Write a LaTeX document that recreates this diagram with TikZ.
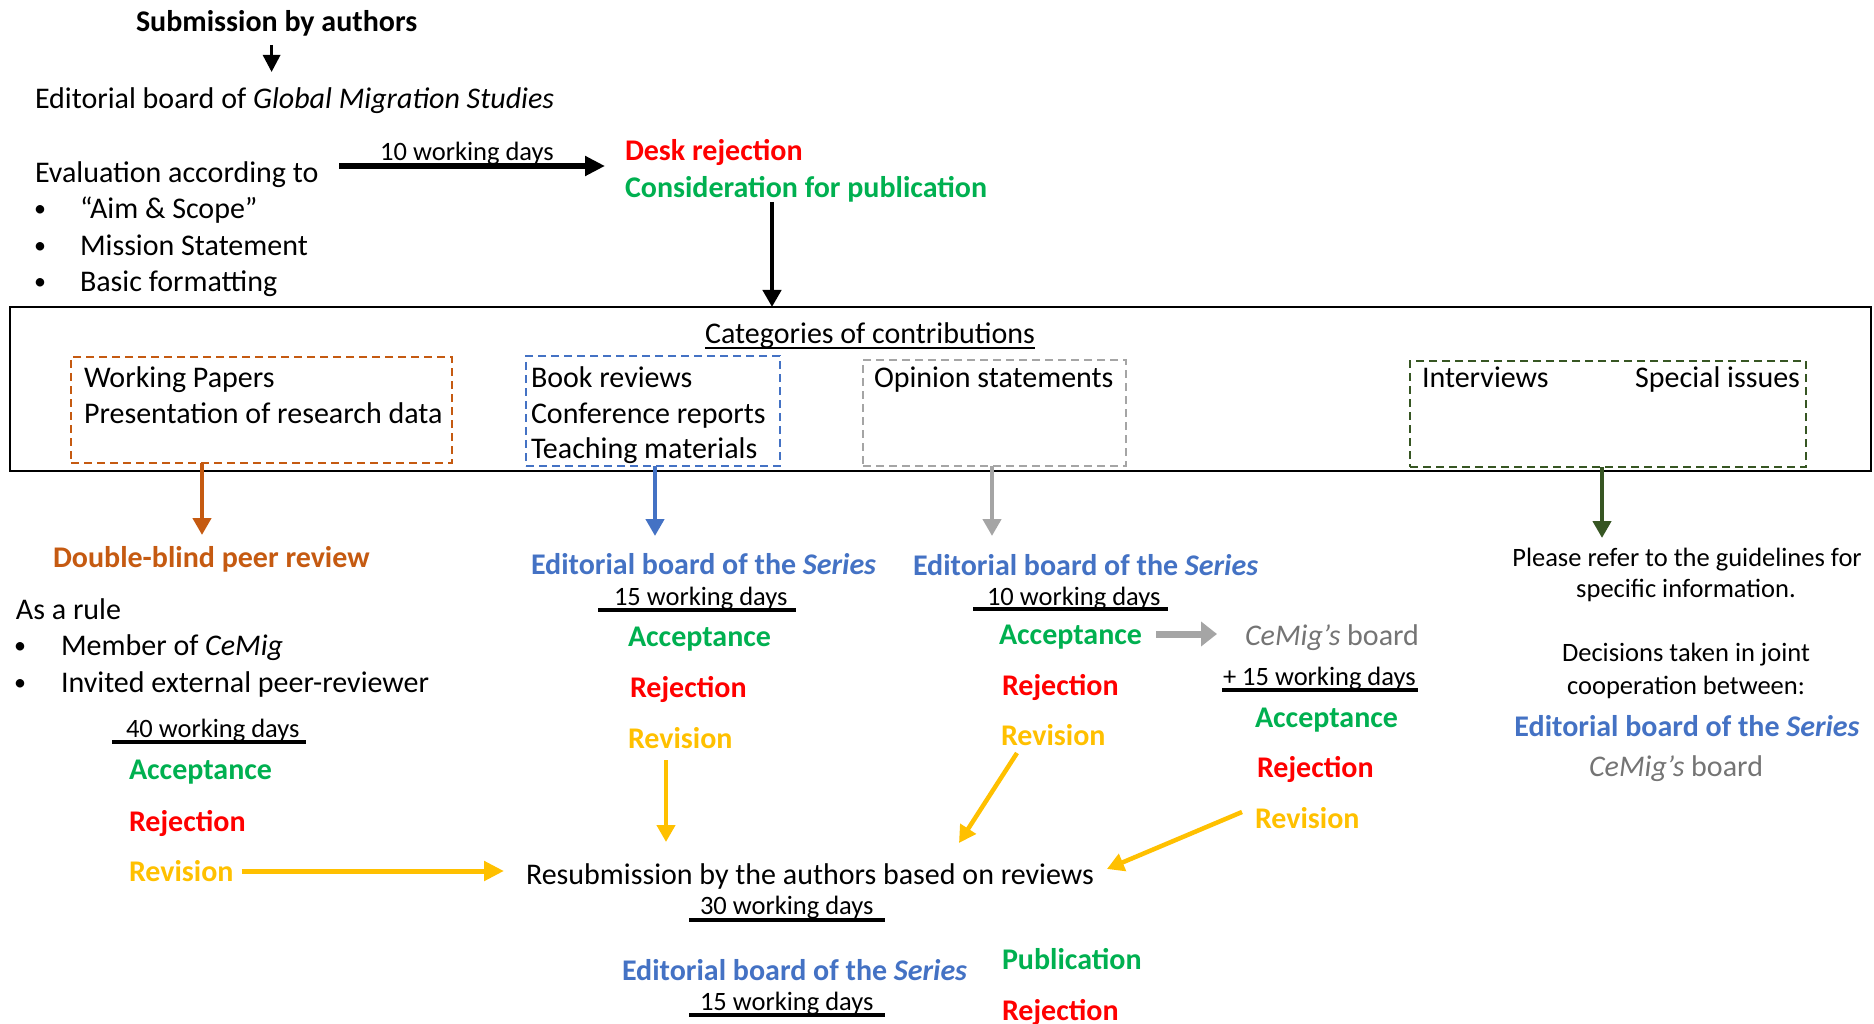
\documentclass[tikz,border=0pt]{standalone}
\usepackage{fontspec}
\setmainfont{Carlito}
\usetikzlibrary{arrows.meta}
\definecolor{cRed}{HTML}{FF0000}
\definecolor{cGreen}{HTML}{00B050}
\definecolor{cGold}{HTML}{FFC000}
\definecolor{cBlue}{HTML}{4472C4}
\definecolor{cOrange}{HTML}{C55A11}
\definecolor{cGreyLine}{HTML}{A5A5A5}
\definecolor{cGreyText}{HTML}{747474}
\definecolor{cDkGreen}{HTML}{375623}
\begin{document}
\begin{tikzpicture}[x=1pt,y=-1pt,
  every node/.style={inner sep=0pt,outer sep=0pt},
  txt/.style={font=\fontsize{30}{36}\selectfont,text height=20pt,text depth=0pt,anchor=west},
  bld/.style={txt,font=\fontsize{30}{36}\selectfont\bfseries},
  sml/.style={font=\fontsize{26.5}{32}\selectfont,text height=17pt,text depth=0pt,anchor=west},
  bul/.style={font=\fontsize{24}{30}\selectfont,text height=16pt,text depth=0pt,anchor=center},
  dbox/.style={draw,line width=2.2pt,dash pattern=on 8pt off 5pt},
  arrT/.style={-{Triangle[length=17pt,width=17pt]},line width=3pt},
  arrM/.style={-{Triangle[length=17pt,width=18pt]},line width=4.5pt},
  arrThick/.style={-{Triangle[length=20pt,width=19pt]},line width=6pt},
  arrBlock/.style={-{Triangle[length=16pt,width=24pt]},line width=7pt},
  wdline/.style={line width=4pt}
]
\useasboundingbox (0,0) rectangle (1874,1024);

% ---- top part
\node[bld] (sub) at (136,22) {Submission by authors};
\node[txt] (egms) at (35,99) {Editorial board of \textit{Global Migration Studies}};
\node[txt] (eval) at (35,173) {Evaluation according to};
\node[bul] (b1) at (40,209) {•};
\node[txt] (aim) at (80,209) {“Aim \& Scope”};
\node[bul] (b2) at (40,246) {•};
\node[txt] (mission) at (80,246) {Mission Statement};
\node[bul] (b3) at (40,282) {•};
\node[txt] (basic) at (80,282) {Basic formatting};
\node[sml,anchor=center] (d10a) at (467,152) {10 working days};
\node[bld,text=cRed] (desk) at (625,151) {Desk rejection};
\node[bld,text=cGreen] (consid) at (625,188) {Consideration for publication};

% ---- categories box
\node[draw,line width=2.5pt,minimum width=1861pt,minimum height=164pt] (big) at (940.5,389) {};
\node[txt,anchor=center] (cat) at (870,333) {Categories of contributions};
\draw[line width=2pt] ([yshift=-5pt]cat.south west) -- ([yshift=-5pt]cat.south east);

\node[dbox,draw=cOrange,minimum width=381pt,minimum height=106pt] (obox) at (261.5,410) {};
\node[txt] (wp) at (84,377) {Working Papers};
\node[txt] (prd) at (84,413) {Presentation of research data};

\node[dbox,draw=cBlue,minimum width=254pt,minimum height=110pt] (bbox) at (653,411) {};
\node[txt] (book) at (531,377) {Book reviews};
\node[txt] (conf) at (531,413) {Conference reports};
\node[txt] (teach) at (531,448) {Teaching materials};

\node[dbox,draw=cGreyLine,minimum width=263pt,minimum height=106pt] (gbox) at (994.5,413) {};
\node[txt] (opinion) at (874,377) {Opinion statements};

\node[dbox,draw=cDkGreen,minimum width=396pt,minimum height=106pt] (grbox) at (1608,414) {};
\node[txt] (interv) at (1422,377) {Interviews};
\node[txt,anchor=east] (special) at (1800,377) {Special issues};

% ---- column 1
\node[bld,text=cOrange] (dbpr) at (53,557) {Double-blind peer review};
\node[txt] (asrule) at (16,609) {As a rule};
\node[bul] (b4) at (20,645) {•};
\node[txt] (member) at (61,645) {Member of \textit{CeMig}};
\node[bul] (b5) at (20,682) {•};
\node[txt] (invited) at (61,682) {Invited external peer-reviewer};
\node[sml] (d40) at (126,729) {40 working days};
\node[bld,text=cGreen] (acc1) at (129,769) {Acceptance};
\node[bld,text=cRed] (rej1) at (129,821) {Rejection};
\node[bld,text=cGold] (rev1) at (129,871) {Revision};

% ---- column 2
\node[bld,text=cBlue] (ebs1) at (531,564) {Editorial board of the \textit{Series}};
\node[sml] (d15a) at (614,597) {15 working days};
\node[bld,text=cGreen] (acc2) at (628,636) {Acceptance};
\node[bld,text=cRed] (rej2) at (630,687) {Rejection};
\node[bld,text=cGold] (rev2) at (628,738) {Revision};

% ---- column 3
\node[bld,text=cBlue] (ebs2) at (913,565) {Editorial board of the \textit{Series}};
\node[sml] (d10b) at (987,597) {10 working days};
\node[bld,text=cGreen] (acc3) at (999,634) {Acceptance};
\node[bld,text=cRed] (rej3) at (1002,685) {Rejection};
\node[bld,text=cGold] (rev3) at (1001,735) {Revision};
\node[txt,text=cGreyText] (cemig1) at (1245,635) {\textit{CeMig’s} board};
\node[sml] (d15p) at (1223,677) {+ 15 working days};
\node[bld,text=cGreen] (acc4) at (1255,717) {Acceptance};
\node[bld,text=cRed] (rej4) at (1257,767) {Rejection};
\node[bld,text=cGold] (rev4) at (1255,818) {Revision};

% ---- right column
\node[sml,anchor=center] (please) at (1687,558) {Please refer to the guidelines for};
\node[sml,anchor=center] (specinfo) at (1686,589) {specific information.};
\node[sml,anchor=center] (decis) at (1686,653) {Decisions taken in joint};
\node[sml,anchor=center] (coop) at (1686,686) {cooperation between:};
\node[bld,anchor=center,text=cBlue] (ebs3) at (1687,726) {Editorial board of the \textit{Series}};
\node[txt,anchor=center,text=cGreyText] (cemig2) at (1676,766) {\textit{CeMig’s} board};

% ---- bottom
\node[txt] (resub) at (526,874) {Resubmission by the authors based on reviews};
\node[sml] (d30) at (700,906) {30 working days};
\node[bld,text=cBlue] (ebs4) at (622,970) {Editorial board of the \textit{Series}};
\node[sml] (d15b) at (700,1002) {15 working days};
\node[bld,text=cGreen] (pub) at (1002,959) {Publication};
\node[bld,text=cRed] (rej5) at (1002,1010) {Rejection};

% ---- underlines of durations
\draw[wdline] ([xshift=-14pt,yshift=-4pt]d40.south west) -- ([xshift=6pt,yshift=-4pt]d40.south east);
\draw[wdline] ([xshift=-16pt,yshift=-4pt]d15a.south west) -- ([xshift=8pt,yshift=-4pt]d15a.south east);
\draw[wdline] ([xshift=-14pt,yshift=-3pt]d10b.south west) -- ([xshift=7pt,yshift=-3pt]d10b.south east);
\draw[wdline] ([xshift=-1pt,yshift=-4pt]d15p.south west) -- ([xshift=2pt,yshift=-4pt]d15p.south east);
\draw[wdline] ([xshift=-11pt,yshift=-5pt]d30.south west) -- ([xshift=11pt,yshift=-5pt]d30.south east);
\draw[wdline] ([xshift=-11pt,yshift=-4pt]d15b.south west) -- ([xshift=11pt,yshift=-4pt]d15b.south east);

% ---- connectors
\draw[arrT,shorten <=13pt,shorten >=17pt] ([xshift=-5pt]sub.south) -- ([xshift=-5pt]sub.south |- egms.north);
\draw[arrThick] ([xshift=21pt,yshift=7pt]eval.east) -- ([xshift=-20pt,yshift=-15pt]desk.west);
\draw[arrM,shorten <=4pt] ([xshift=147pt]consid.south west) -- ([xshift=147pt]consid.south west |- big.north);
\draw[arrM,cOrange,shorten >=12pt] ([xshift=-59.5pt]obox.south) -- ([xshift=-59.5pt]obox.south |- dbpr.north);
\draw[arrM,cBlue,shorten >=18pt] ([xshift=2pt]bbox.south) -- ([xshift=2pt]bbox.south |- ebs1.north);
\draw[arrM,cGreyLine,shorten >=19pt] ([xshift=-2.5pt]gbox.south) -- ([xshift=-2.5pt]gbox.south |- ebs2.north);
\draw[arrM,cDkGreen,shorten >=11.5pt] ([xshift=-6pt]grbox.south) -- ([xshift=-6pt]grbox.south |- please.north);
\draw[arrBlock,cGreyLine] ([xshift=14pt]acc3.east) -- ([xshift=-28pt]cemig1.west |- acc3.east);
\draw[arrThick,cGold,line width=5pt] ([xshift=8pt]rev1.east) -- ([xshift=-22pt]resub.west |- rev1.east);
\draw[arrM,cGold,shorten <=12pt,shorten >=22pt] ([xshift=38pt]rev2.south west) -- ([xshift=38pt]rev2.south west |- resub.north);
\draw[arrM,cGold] ([xshift=16pt,yshift=-8pt]rev3.south west) -- ([xshift=433pt,yshift=21pt]resub.north west);
\draw[arrM,cGold] ([xshift=-13pt,yshift=6pt]rev4.west) -- ([xshift=13pt,yshift=5pt]resub.east);
\end{tikzpicture}
\end{document}
